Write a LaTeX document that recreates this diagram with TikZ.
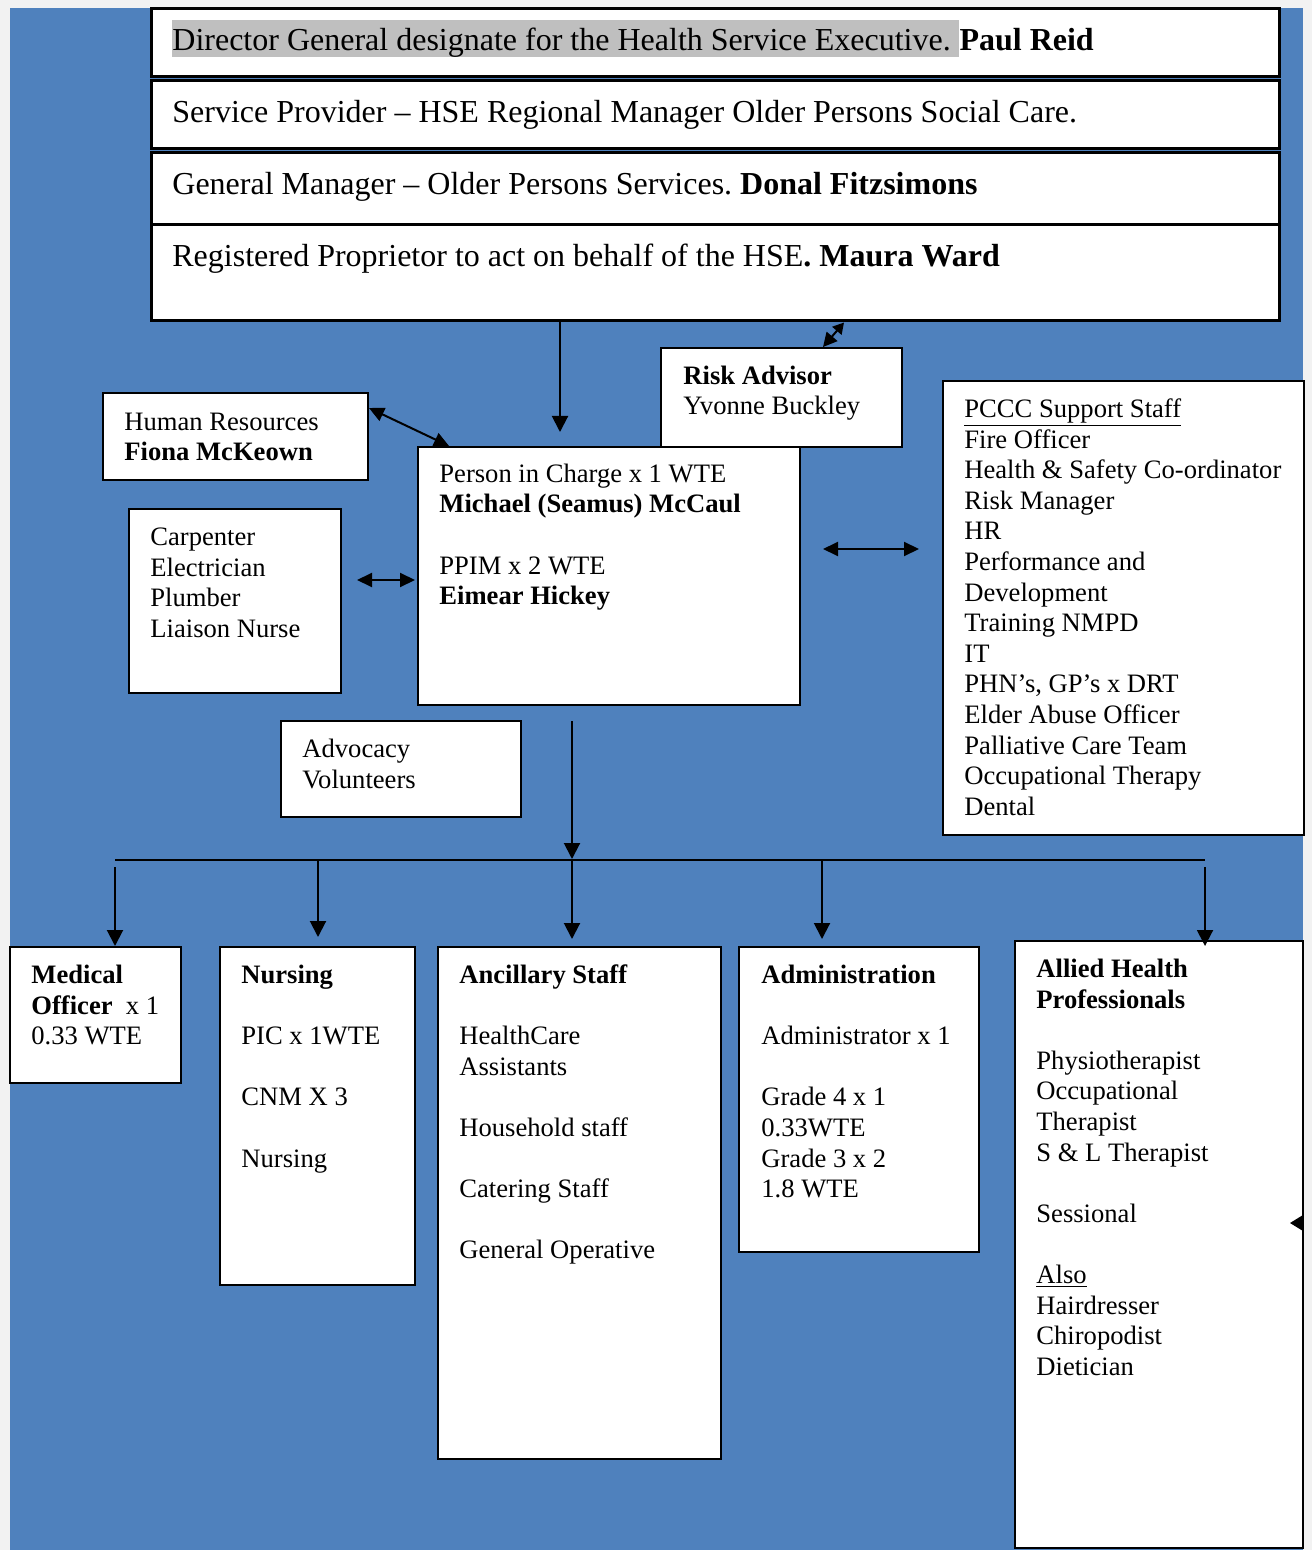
\documentclass[tikz,border=0pt]{standalone}
\usepackage{fontspec}
\setmainfont{Liberation Serif}
\usetikzlibrary{arrows.meta,fit}
\definecolor{bgblue}{HTML}{4F81BD}
\definecolor{pagegray}{HTML}{F2F2F2}
\definecolor{hlgray}{HTML}{BFBFBF}
\newcommand{\bodyfont}{\fontsize{13.3}{15.3}\selectfont}
\newcommand{\topfont}{\fontsize{16}{18.4}\selectfont}
\frenchspacing
\begin{document}
\begin{tikzpicture}[x=0.5pt,y=-0.5pt,
 box/.style={draw=black, line width=1pt, fill=white, inner sep=0pt},
 topbox/.style={draw=black, line width=1.5pt, fill=white, inner sep=0pt},
 txt/.style={anchor=north west, inner sep=0pt, align=left, font=\bodyfont, yshift=10.71pt},
 toptxt/.style={anchor=base west, inner sep=0pt, font=\topfont},
 arr/.style={line width=1pt, -{Triangle[length=8pt,width=8pt]}},
 darr/.style={line width=1pt, {Triangle[length=7.5pt,width=7pt]}-{Triangle[length=7.5pt,width=7pt]}},
 sdarr/.style={line width=1pt, {Triangle[length=5.5pt,width=6pt]}-{Triangle[length=7pt,width=7pt]}},
]
\useasboundingbox (0,0) rectangle (1312,1550);
\fill[pagegray] (0,0) rectangle (1312,1550);
\fill[bgblue] (10,8) rectangle (1303,1550);

% top stack
\node[topbox, fit={(151,9) (1279,77)}] (top1) {};
\node[topbox, fit={(151,81) (1279,149)}] (top2) {};
\node[topbox, fit={(151,153) (1279,225)}] (top3) {};
\node[topbox, fit={(151,225) (1279,321)}] (top4) {};
\node[toptxt, fill=hlgray, text height=15.5pt, text depth=3pt] (dg) at (172,51) {Director General designate for the Health Service Executive.\ \mbox{}};
\node[toptxt] (pr) at (dg.base east) {\bfseries Paul Reid};
\node[toptxt] (sp) at (172,123) {Service Provider – HSE Regional Manager Older Persons Social Care.};
\node[toptxt] (gm) at (172,195) {General Manager – Older Persons Services. \textbf{Donal Fitzsimons}};
\node[toptxt] (rp) at (172,267) {Registered Proprietor to act on behalf of the HSE\textbf{. Maura Ward}};

% middle boxes
\node[box, fit={(661,348) (902,447)}] (risk) {};
\node[txt] (riskt) at (683,384) {\strut\textbf{Risk Advisor}\\Yvonne Buckley};
\node[box, fit={(103,393) (368,480)}] (hr) {};
\node[txt] (hrt) at (124,430) {\strut Human Resources\\\textbf{Fiona McKeown}};
\node[box, fit={(418,447) (800,705)}] (pic) {};
\node[txt] (pict) at (439,482) {\strut Person in Charge x 1 WTE\\\textbf{Michael (Seamus) McCaul}\\\strut\\PPIM x 2 WTE\\\textbf{Eimear Hickey}};
\node[box, fit={(129,509) (341,693)}] (carp) {};
\node[txt] (carpt) at (150,545) {\strut Carpenter\\Electrician\\Plumber\\Liaison Nurse};
\node[box, fit={(943,381) (1304,835)}] (pccc) {};
\node[txt] (pccct) at (964,417) {\strut\underline{PCCC Support Staff}\\Fire Officer\\Health \& Safety Co-ordinator\\Risk Manager\\HR\\Performance and\\Development\\Training NMPD\\IT\\PHN’s, GP’s x DRT\\Elder Abuse Officer\\Palliative Care Team\\Occupational Therapy\\Dental};
\node[box, fit={(281,721) (521,817)}] (adv) {};
\node[txt] (advt) at (302,757) {\strut Advocacy\\Volunteers};

% bottom boxes
\node[box, fit={(10,947) (181,1083)}] (med) {};
\node[txt] (medt) at (31,983) {\strut\textbf{Medical}\\\textbf{Officer}\ \ x 1\\0.33 WTE};
\node[box, fit={(220,947) (415,1285)}] (nur) {};
\node[txt] (nurt) at (241,983) {\strut\textbf{Nursing}\\\strut\\PIC x 1WTE\\\strut\\CNM X 3\\\strut\\Nursing};
\node[box, fit={(438,947) (721,1459)}] (anc) {};
\node[txt] (anct) at (459,983) {\strut\textbf{Ancillary Staff}\\\strut\\HealthCare\\Assistants\\\strut\\Household staff\\\strut\\Catering Staff\\\strut\\General Operative};
\node[box, fit={(739,947) (979,1252)}] (adm) {};
\node[txt] (admt) at (761,983) {\strut\textbf{Administration}\\\strut\\Administrator x 1\\\strut\\Grade 4 x 1\\0.33WTE\\Grade 3 x 2\\1.8 WTE};
\node[box, fit={(1015,941) (1303,1548)}] (all) {};
\node[txt] (allt) at (1036,977) {\strut\textbf{Allied Health}\\\textbf{Professionals}\\\strut\\Physiotherapist\\Occupational\\Therapist\\S \& L Therapist\\\strut\\Sessional\\\strut\\\underline{Also}\\Hairdresser\\Chiropodist\\Dietician};

% connectors
\coordinate (p1) at (560,432);
\draw[arr] (top4.south -| p1) -- (p1);
\coordinate (p2) at (844,0);
\coordinate (p3) at (823,0);
\draw[sdarr] (top4.south -| p2) -- (risk.north -| p3);
\coordinate (p4) at (0,408);
\coordinate (p5) at (449,0);
\draw[darr] (hr.east |- p4) -- (pic.north -| p5);
\coordinate (c1) at (357,580);
\coordinate (c2) at (415,580);
\draw[darr] (c1) -- (c2);
\coordinate (c3) at (823,549);
\coordinate (c4) at (919,549);
\draw[darr] (c3) -- (c4);
\coordinate (d0) at (572,721);
\coordinate (d1) at (572,859);
\draw[arr] (d0) -- (d1);
\coordinate (bl) at (115,860);
\coordinate (br) at (1205,860);
\draw[line width=1pt] (bl) -- (br);
\coordinate (m0) at (115,867);
\draw[arr] (m0) -- (m0 |- med.north);
\coordinate (n0) at (318,860);
\draw[arr] (n0) -- ([yshift=4.5pt]n0 |- nur.north);
\coordinate (a0) at (572,860);
\draw[arr] (a0) -- ([yshift=3.5pt]a0 |- anc.north);
\coordinate (b0) at (822,860);
\draw[arr] (b0) -- ([yshift=3.5pt]b0 |- adm.north);
\coordinate (e0) at (1205,867);
\draw[arr] (e0) -- ([yshift=-3pt]e0 |- all.north);
\fill (1290,1223) -- (1303,1215) -- (1303,1231) -- cycle;
\end{tikzpicture}
\end{document}
